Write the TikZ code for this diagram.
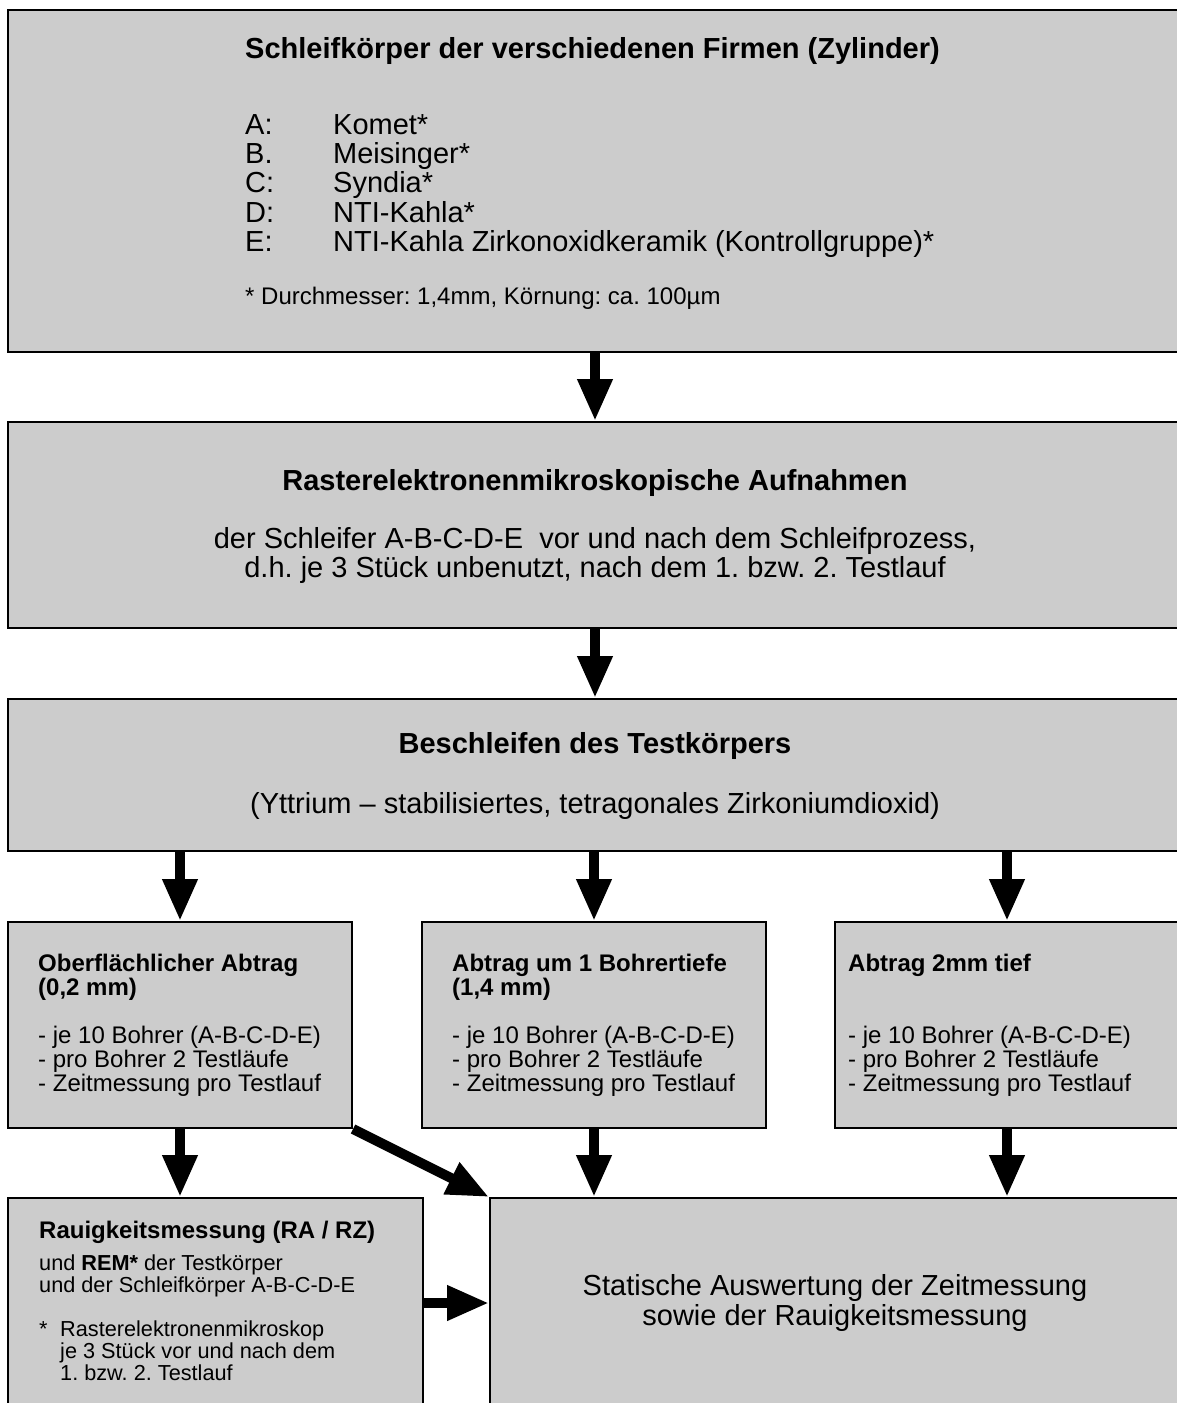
\documentclass[tikz,border=0pt]{standalone}
\usepackage{fontspec}
\setmainfont{Liberation Sans}
\usepackage{tikz}
\usetikzlibrary{arrows.meta, positioning}

\definecolor{boxgray}{RGB}{204,204,204}
\newcommand{\fbig}{\fontsize{29}{29.2}\selectfont}
\newcommand{\fmid}{\fontsize{24}{24}\selectfont}
\newcommand{\fsmall}{\fontsize{21.7}{22}\selectfont}
\frenchspacing

\begin{document}
\begin{tikzpicture}[x=1pt, y=-1pt,
	box/.style={draw, line width=2pt, fill=boxgray, inner sep=0pt},
	big/.style={line width=10pt, -{Triangle[width=33pt,length=42pt]}},
	txt/.style={inner sep=0pt, anchor=base west, align=left},
	ctxt/.style={inner sep=0pt, anchor=base, align=center}]
	\useasboundingbox (0,0) rectangle (1177,1403);
	% boxes
	\node[box, minimum width=1174pt, minimum height=342pt] (1) at (595,181) {};
	\node[box, minimum width=1174pt, minimum height=206pt] (2) at (595,525) {};
	\node[box, minimum width=1174pt, minimum height=152pt] (3) at (595,775) {};
	\node[box, minimum width=344pt, minimum height=206pt] (4) at (180,1025) {};
	\node[box, minimum width=344pt, minimum height=206pt] (5) at (594,1025) {};
	\node[box, minimum width=344pt, minimum height=206pt] (6) at (1007,1025) {};
	\node[box, minimum width=415pt, minimum height=210pt] (7) at (215.5,1303) {};
	\node[box, minimum width=700pt, minimum height=210pt] (8) at (840,1303) {};
	% texts (base = last line)
	\node[txt, font=\fbig\bfseries] (1a) at (245,58) {Schleifkörper der verschiedenen Firmen (Zylinder)};
	\node[txt, font=\fbig] (1b) at (245,251.3) {\makebox[88pt][l]{A:}Komet*\\
		\makebox[88pt][l]{B.}Meisinger*\\
		\makebox[88pt][l]{C:}Syndia*\\
		\makebox[88pt][l]{D:}NTI-Kahla*\\
		\makebox[88pt][l]{E:}NTI-Kahla Zirkonoxidkeramik (Kontrollgruppe)*};
	\node[txt, font=\fmid] (1c) at (245,304) {* Durchmesser: 1,4mm, Körnung: ca. 100µm};
	\node[ctxt, font=\fbig\bfseries] (2a) at (595,490.5) {Rasterelektronenmikroskopische Aufnahmen};
	\node[ctxt, font=\fbig] (2b) at (595,577.7) {der Schleifer A-B-C-D-E~ vor und nach dem Schleifprozess,\\
		d.h. je 3 Stück unbenutzt, nach dem 1. bzw. 2. Testlauf};
	\node[ctxt, font=\fbig\bfseries] (3a) at (595,753.5) {Beschleifen des Testkörpers};
	\node[ctxt, font=\fbig] (3b) at (595,813.5) {(Yttrium – stabilisiertes, tetragonales Zirkoniumdioxid)};
	\node[txt, font=\fmid\bfseries] (4a) at (38,995.6) {Oberflächlicher Abtrag\\(0,2 mm)};
	\node[txt, font=\fmid] (4b) at (38,1091.6) {- je 10 Bohrer (A-B-C-D-E)\\- pro Bohrer 2 Testläufe\\- Zeitmessung pro Testlauf};
	\node[txt, font=\fmid\bfseries] (5a) at (452,995.6) {Abtrag um 1 Bohrertiefe\\(1,4 mm)};
	\node[txt, font=\fmid] (5b) at (452,1091.6) {- je 10 Bohrer (A-B-C-D-E)\\- pro Bohrer 2 Testläufe\\- Zeitmessung pro Testlauf};
	\node[txt, font=\fmid\bfseries] (6a) at (848,971.6) {Abtrag 2mm tief};
	\node[txt, font=\fmid] (6b) at (848,1091.6) {- je 10 Bohrer (A-B-C-D-E)\\- pro Bohrer 2 Testläufe\\- Zeitmessung pro Testlauf};
	\node[txt, font=\fmid\bfseries] (7a) at (39,1238.6) {Rauigkeitsmessung (RA / RZ)};
	\node[txt, font=\fsmall] (7b) at (39,1292) {und \textbf{REM*} der Testkörper\\und der Schleifkörper A-B-C-D-E};
	\node[txt, font=\fsmall] (7c) at (39,1380) {\makebox[21pt][l]{*}Rasterelektronenmikroskop\\
		\hspace*{21pt}je 3 Stück vor und nach dem\\
		\hspace*{21pt}1. bzw. 2. Testlauf};
	\node[ctxt, font=\fbig] (8a) at (835,1325.5) {Statische Auswertung der Zeitmessung\\[0.8pt]sowie der Rauigkeitsmessung};
	% arrows
	\draw[big] (1) -- (2);
	\draw[big] (2) -- (3);
	\draw[big] (4 |- 3.south) -- (4);
	\draw[big] (5 |- 3.south) -- (5);
	\draw[big] (6 |- 3.south) -- (6);
	\draw[big] (4) -- (4 |- 7.north);
	\draw[big] (5) -- (5 |- 8.north);
	\draw[big] (6) -- (6 |- 8.north);
	\draw[big] (4.south east) -- (8.north west);
	\draw[big] (7) -- (8);
\end{tikzpicture}
\end{document}
